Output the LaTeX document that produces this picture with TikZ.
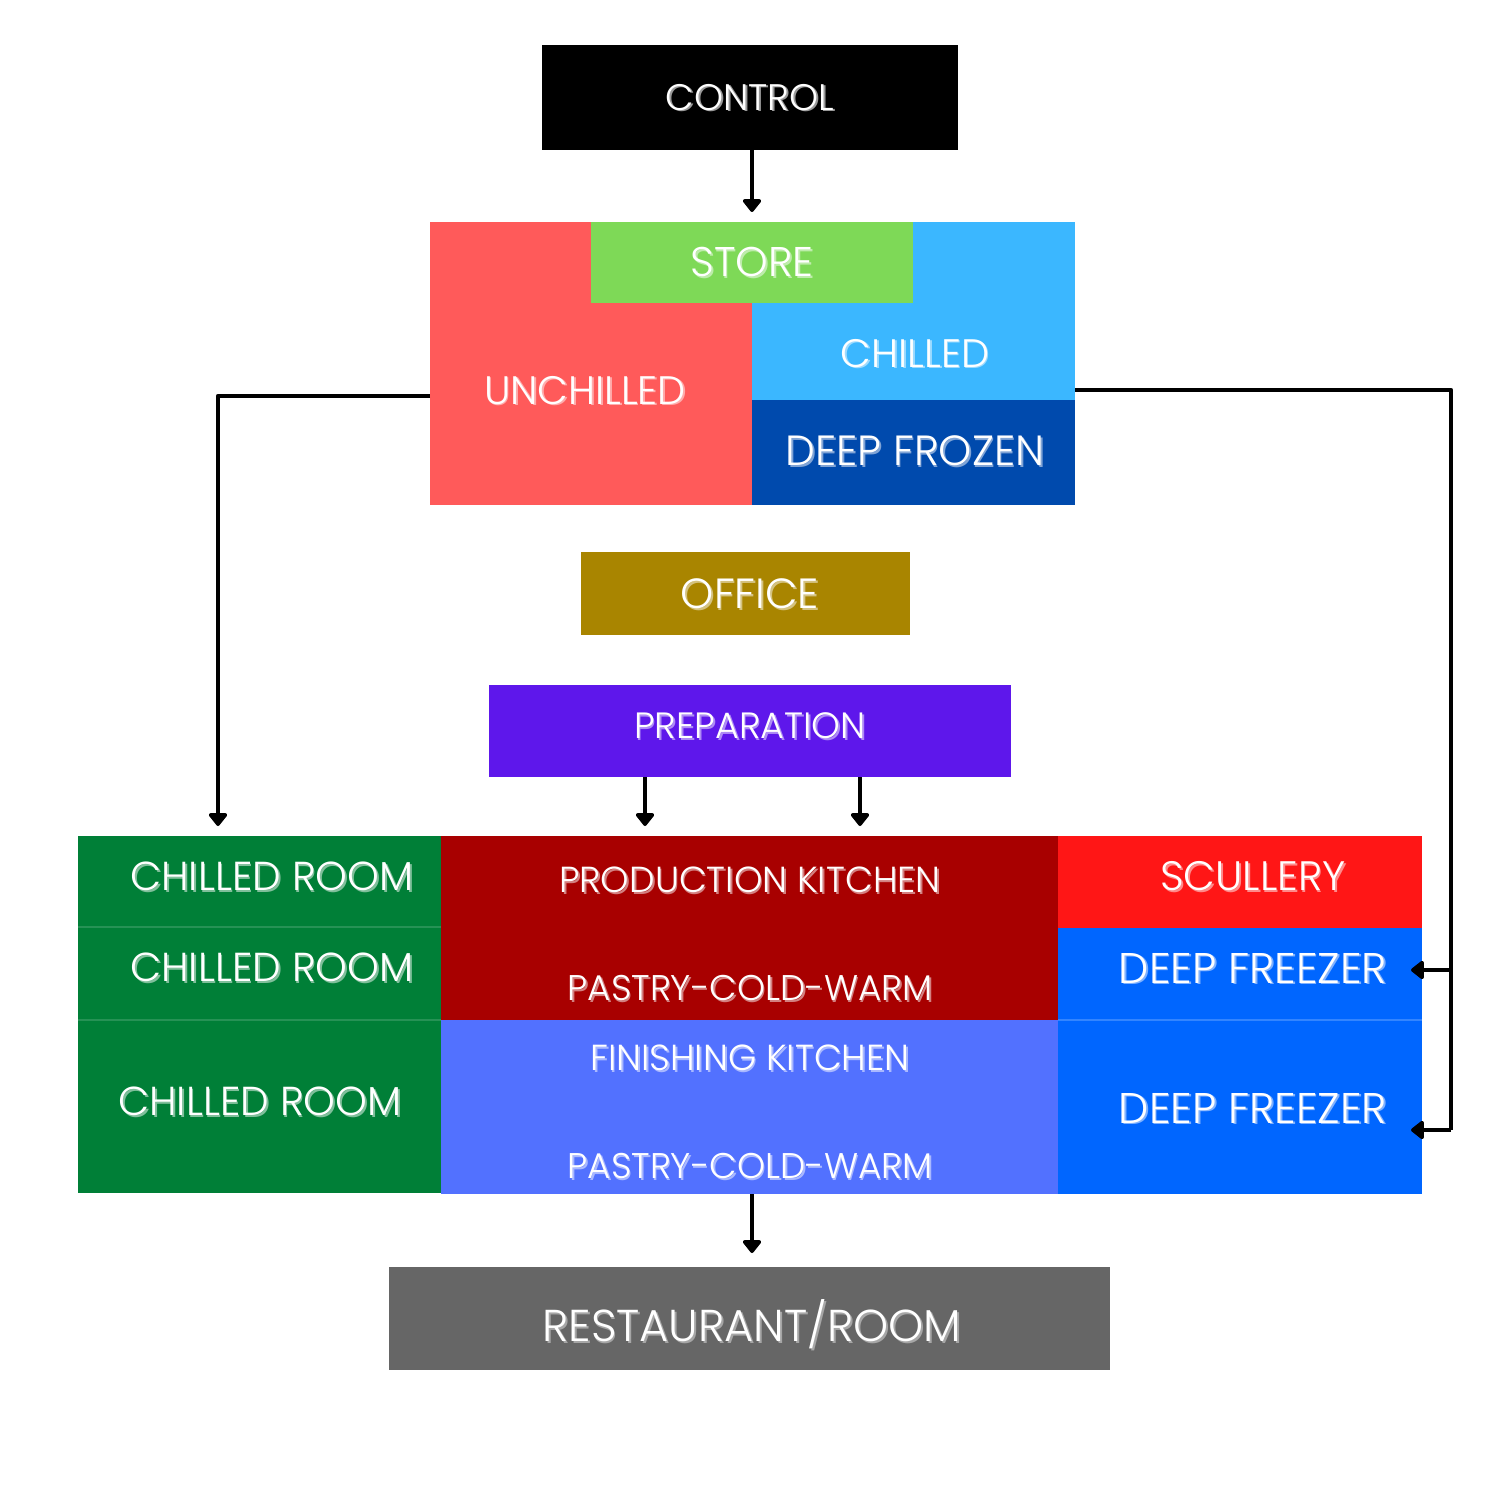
\documentclass[tikz,border=0pt]{standalone}
\usepackage{fontspec}
\setmainfont{Poppins}[UprightFont=* Light]
\usetikzlibrary{fit,arrows.meta}
\definecolor{cUnch}{HTML}{FF5A5A}
\definecolor{cChil}{HTML}{3BB7FF}
\definecolor{cDeep}{HTML}{004AAD}
\definecolor{cStore}{HTML}{7ED957}
\definecolor{cOffice}{HTML}{A98500}
\definecolor{cPrep}{HTML}{5E17EB}
\definecolor{cGreen}{HTML}{007F37}
\definecolor{cProd}{HTML}{A80000}
\definecolor{cFin}{HTML}{5271FF}
\definecolor{cScul}{HTML}{FF1616}
\definecolor{cFrz}{HTML}{0066FF}
\definecolor{cRest}{HTML}{666666}
\newcommand\shd[2]{\leavevmode\rlap{\kern0.5pt\raisebox{-0.5pt}{\textcolor{#1}{#2}}}\textcolor{white}{#2}}
\tikzset{
  area/.style={inner sep=0pt, outer sep=0pt, draw=none, fill=#1},
  lbl/.style={inner sep=0pt, text=white, font=\fontsize{#1}{#1}\selectfont},
  conn/.style={line width=1.35pt, line join=round, -{Triangle[width=6pt,length=4pt,round]}},
  plain/.style={line width=1.35pt, line join=round}
}
\begin{document}
\begin{tikzpicture}[x=0.01cm,y=-0.01cm]
\useasboundingbox (0,0) rectangle (1500,1500);
\fill[white] (0,0) rectangle (1500,1500);

% top
\node[area=black, fit={(542,45) (958,150)}] (control) {};
\node[lbl=10.5pt] (tcontrol) at (750,98) {\shd{black!40}{CONTROL}};

\node[area=cUnch, fit={(430,222) (752,505)}] (unchilled) {};
\node[area=cChil, fit={(752,222) (1075,400)}] (chilled) {};
\node[area=cDeep, fit={(752,400) (1075,505)}] (deepfrozen) {};
\node[area=cStore, fit={(591,222) (913,303)}] (store) {};
\node[lbl=11.8pt] (tstore) at (752,263) {\shd{white!50!cStore}{STORE}};
\node[lbl=11.3pt] (tunch) at (585,391) {\shd{white!50!cUnch}{UNCHILLED}};
\node[lbl=11.3pt] (tchil) at (915,354) {\shd{white!50!cChil}{CHILLED}};
\node[lbl=12pt] (tdeep) at (915,452) {\shd{white!50!cDeep}{DEEP FROZEN}};

\node[area=cOffice, fit={(581,552) (910,635)}] (office) {};
\node[lbl=12pt] (toffice) at (750,595) {\shd{white!50!cOffice}{OFFICE}};

\node[area=cPrep, fit={(489,685) (1011,777)}] (prep) {};
\node[lbl=10.4pt] (tprep) at (750,727) {\shd{white!50!cPrep}{PREPARATION}};

% bottom block
\node[area=cGreen, fit={(78,836) (441,1193)}] (green) {};
\node[area=cProd, fit={(441,836) (1058,1020)}] (prod) {};
\node[area=cFin, fit={(441,1020) (1058,1194)}] (fin) {};
\node[area=cScul, fit={(1058,836) (1422,928)}] (scul) {};
\node[area=cFrz, fit={(1058,928) (1422,1020)}] (frz1) {};
\node[area=cFrz, fit={(1058,1020) (1422,1194)}] (frz2) {};
\draw[white!15!cGreen, line width=0.3pt] (78,927) -- (441,927) (78,1020) -- (441,1020);
\draw[white!20!cFrz, line width=0.3pt] (1058,1020) -- (1422,1020);

\node[lbl=11.5pt] (tcr1) at (272,877) {\shd{white!50!cGreen}{CHILLED ROOM}};
\node[lbl=11.5pt] (tcr2) at (272,968) {\shd{white!50!cGreen}{CHILLED ROOM}};
\node[lbl=11.5pt] (tcr3) at (260,1102) {\shd{white!50!cGreen}{CHILLED ROOM}};
\node[lbl=10.3pt] (tprod) at (750,881) {\shd{white!50!cProd}{PRODUCTION KITCHEN}};
\node[lbl=10.15pt] (tpcw1) at (750,989) {\shd{white!50!cProd}{PASTRY-COLD-WARM}};
\node[lbl=10.3pt] (tfin) at (750,1059) {\shd{white!50!cFin}{FINISHING KITCHEN}};
\node[lbl=10.15pt] (tpcw2) at (750,1167) {\shd{white!50!cFin}{PASTRY-COLD-WARM}};
\node[lbl=11.7pt] (tscul) at (1253,877) {\shd{white!50!cScul}{SCULLERY}};
\node[lbl=12.2pt] (tfrz1) at (1253,969) {\shd{white!50!cFrz}{DEEP FREEZER}};
\node[lbl=12.2pt] (tfrz2) at (1253,1109) {\shd{white!50!cFrz}{DEEP FREEZER}};

\node[area=cRest, fit={(389,1267) (1110,1370)}] (rest) {};
\node[lbl=12.7pt] (trest) at (752,1325) {\shd{black!35}{RESTAURANT/ROOM}};

% connectors
\coordinate (a1) at (752,212);
\coordinate (a2) at (645,826);
\coordinate (a3) at (860,826);
\coordinate (a4) at (752,1253);
\coordinate (a5) at (218,826);
\coordinate (a6) at (1411,970);
\coordinate (a7) at (1411,1130);
\coordinate (j1) at (1451,970);
\draw[conn] (control.south -| a1) -- (a1);
\draw[conn] (prep.south -| a2) -- (a2);
\draw[conn] (prep.south -| a3) -- (a3);
\draw[conn] (fin.south -| a4) -- (a4);
\draw[conn] (unchilled.west |- 0,396) -- (218,396) -- (a5);
\draw[plain] (chilled.east |- 0,390) -- (1451,390) -- (1451,1130);
\draw[conn] (j1) -- (a6);
\draw[conn] (1451,1130) -- (a7);
\end{tikzpicture}
\end{document}
